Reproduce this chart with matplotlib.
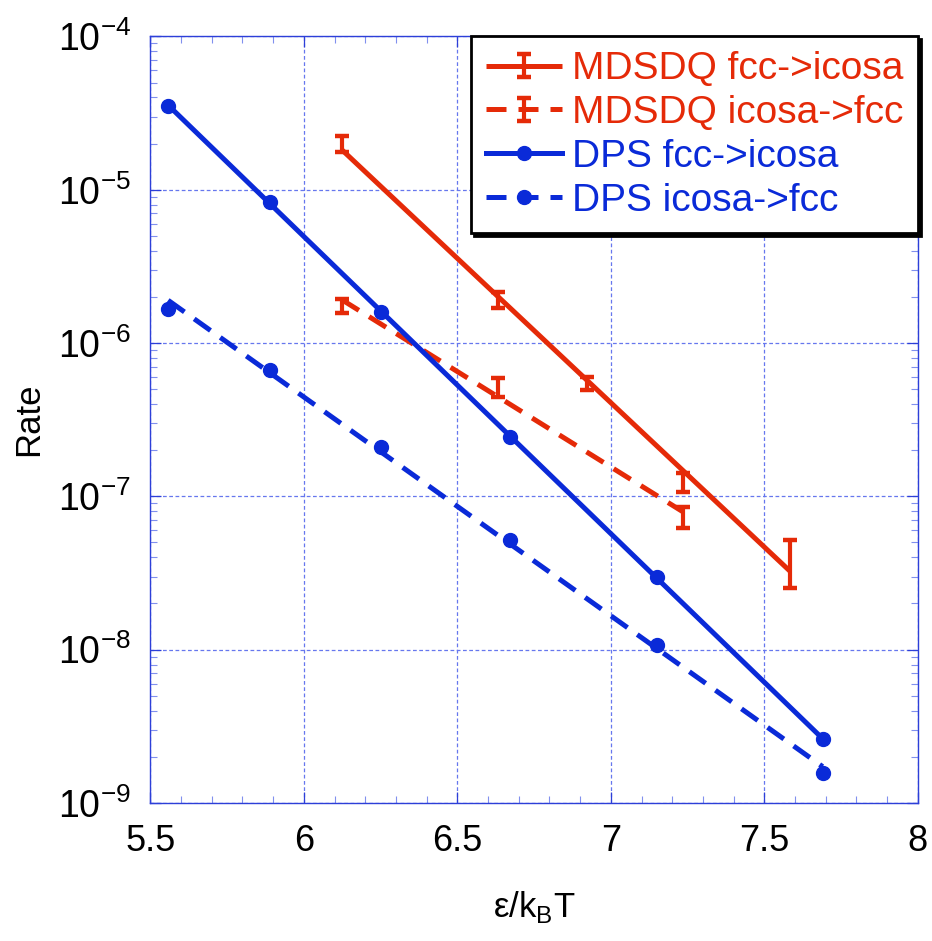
import numpy as np
import matplotlib
matplotlib.use("Agg")
import matplotlib.pyplot as plt
from matplotlib.container import ErrorbarContainer
from matplotlib.legend_handler import HandlerErrorbar
from matplotlib.ticker import FuncFormatter, LogLocator, MultipleLocator

plt.rcParams["font.family"] = ["Liberation Sans", "DejaVu Sans"]

# DPS data (markers)
x_dps = [5.558, 5.890, 6.250, 6.672, 7.150, 7.690]
rate_dps_fcc_ico = [3.52e-5, 8.3e-6, 1.60e-6, 2.44e-7, 2.99e-8, 2.60e-9]
rate_dps_ico_fcc = [1.67e-6, 6.68e-7, 2.10e-7, 5.2e-8, 1.07e-8, 1.56e-9]

# MDSDQ data (error bars)
x_md_fcc_ico = [6.124, 6.633, 6.922, 7.234, 7.583]
rate_md_fcc_ico = [2.0e-5, 1.91e-6, 5.45e-7, 1.25e-7, 3.87e-8]
err_md_fcc_ico = [0.23e-5, 0.23e-6, 0.53e-7, 0.18e-7, 1.33e-8]

x_md_ico_fcc = [6.124, 6.633, 7.234]
rate_md_ico_fcc = [1.76e-6, 5.2e-7, 7.4e-8]
err_md_ico_fcc = [0.19e-6, 0.74e-7, 1.15e-8]

labels = ["MDSDQ fcc->icosa", "MDSDQ icosa->fcc", "DPS fcc->icosa", "DPS icosa->fcc"]

RED = "#E52A08"
BLUE = "#0A2AD8"
AXBLUE = "#2D3FD8"


def fit_line(x, y):
    """Least squares straight line in log10(rate) over the data range."""
    x = np.asarray(x)
    k, b = np.polyfit(x, np.log10(y), 1)
    xs = np.array([x.min(), x.max()])
    return xs, 10 ** (k * xs + b)


fig = plt.figure(figsize=(9.32, 9.41), dpi=100)
ax = fig.add_axes([0.1613, 0.1467, 0.8235, 0.8146])
ax.set_yscale("log")

dash = (0, (4, 2.4))
lw = 3.6
eb_kw = dict(fmt="none", ecolor=RED, elinewidth=3, capsize=5, capthick=3.2)

# MDSDQ fcc->icosa
fx, fy = fit_line(x_md_fcc_ico, rate_md_fcc_ico)
l1, = ax.plot(fx, fy, color=RED, lw=lw, solid_capstyle="butt")
e1 = ax.errorbar(x_md_fcc_ico, rate_md_fcc_ico, yerr=err_md_fcc_ico, **eb_kw)

# MDSDQ icosa->fcc
fx, fy = fit_line(x_md_ico_fcc, rate_md_ico_fcc)
l2, = ax.plot(fx, fy, color=RED, lw=lw, ls=dash)
e2 = ax.errorbar(x_md_ico_fcc, rate_md_ico_fcc, yerr=err_md_ico_fcc, **eb_kw)

# DPS fcc->icosa
fx, fy = fit_line(x_dps, rate_dps_fcc_ico)
l3, = ax.plot(fx, fy, color=BLUE, lw=lw)
m3, = ax.plot(x_dps, rate_dps_fcc_ico, "o", color=BLUE, ms=10)

# DPS icosa->fcc
fx, fy = fit_line(x_dps, rate_dps_ico_fcc)
l4, = ax.plot(fx, fy, color=BLUE, lw=lw, ls=dash)
m4, = ax.plot(x_dps, rate_dps_ico_fcc, "o", color=BLUE, ms=10)

ax.set_xlim(5.5, 8)
ax.set_ylim(1e-9, 1e-4)
ax.xaxis.set_major_locator(MultipleLocator(0.5))
ax.xaxis.set_minor_locator(MultipleLocator(0.1))
ax.xaxis.set_major_formatter(FuncFormatter(lambda v, p: f"{v:g}"))
ax.yaxis.set_major_locator(LogLocator(base=10, numticks=10))
ax.yaxis.set_minor_locator(LogLocator(base=10, subs=np.arange(2, 10), numticks=20))
ax.yaxis.set_major_formatter(FuncFormatter(lambda v, p: r"$\mathregular{10^{%d}}$" % round(np.log10(v))))

ax.grid(True, which="major", color="#6677EE", ls=(0, (3, 2)), lw=0.9)
for sp in ax.spines.values():
    sp.set_color(AXBLUE)
    sp.set_linewidth(1.0)
ax.tick_params(which="both", direction="in", top=True, right=True, colors=AXBLUE,
               labelcolor="black")
ax.tick_params(which="major", length=8, width=0.9)
ax.tick_params(which="minor", length=5, width=0.8, color="#8090EE")
ax.tick_params(axis="x", pad=15, labelsize=26)
ax.tick_params(axis="y", pad=14, labelsize=27)

ax.set_xlabel(r"ε/k$_\mathregular{B}$T", fontsize=25, labelpad=22)
ax.set_ylabel("Rate", fontsize=25, labelpad=9)

leg = ax.legend([(l1, e1), (l2, e2), (l3, m3), (l4, m4)], labels,
                handler_map={ErrorbarContainer: HandlerErrorbar(yerr_size=0.3)},
                loc="upper right", borderaxespad=0, fontsize=28, handlelength=1.95,
                handletextpad=0.25, labelspacing=0.2, borderpad=0.38,
                fancybox=False, shadow={"color": "black", "alpha": 1})
leg.get_frame().set_edgecolor("black")
leg.get_frame().set_linewidth(2)
for txt, c in zip(leg.get_texts(), [RED, RED, BLUE, BLUE]):
    txt.set_color(c)

fig.savefig("out.png", dpi=100)
